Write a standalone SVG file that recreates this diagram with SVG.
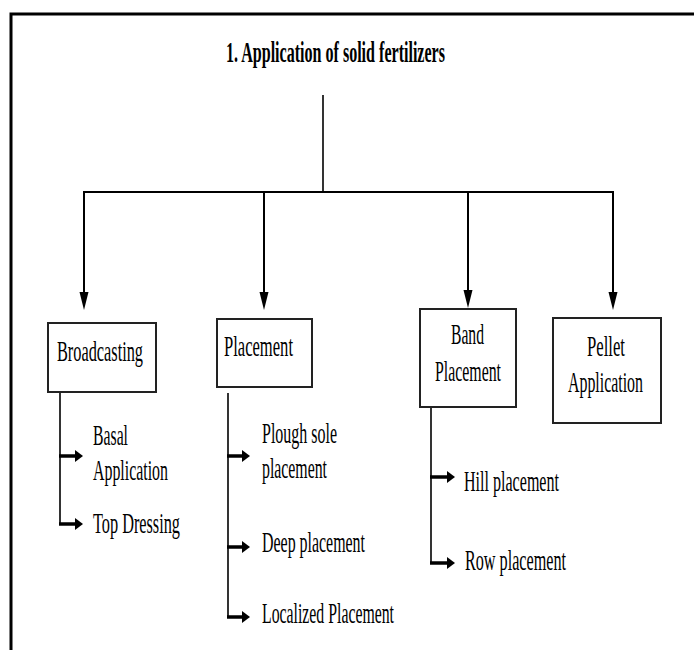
<svg xmlns="http://www.w3.org/2000/svg" width="694" height="650" viewBox="0 0 694 650">
<style>
  text { font-family: "Liberation Serif", "Times New Roman", serif; font-size: 29px; fill: #000; }
  .title { font-weight: bold; }
  .box { fill: #fff; stroke: #222; stroke-width: 2; }
  .main { stroke: #000; stroke-width: 2; fill: none; }
  .trunk { stroke: #000; stroke-width: 1.6; fill: none; }
  .sub { stroke: #000; stroke-width: 3.5; fill: none; }
  .frame { stroke: #000; stroke-width: 3; fill: none; }
</style>
<defs>
  <marker id="down" markerUnits="userSpaceOnUse" markerWidth="18" markerHeight="10" refX="10" refY="4.5" orient="auto">
    <path d="M0,0 L18,4.5 L0,9 z" fill="#000"/>
  </marker>
  <marker id="right" markerUnits="userSpaceOnUse" markerWidth="9" markerHeight="13" refX="2" refY="6" orient="auto">
    <path d="M0,0 L8,6 L0,12 z" fill="#000"/>
  </marker>
</defs>
<rect width="694" height="650" fill="#fff"/>
<path class="frame" d="M11,650 L11,14 L694,14"/>

<g id="title">
  <text class="title" x="226" y="62" textLength="219" lengthAdjust="spacingAndGlyphs">1. Application of solid fertilizers</text>
</g>

<g id="connectors">
  <line class="trunk" x1="323" y1="95" x2="323" y2="192"/>
  <line class="main" x1="83" y1="192" x2="614" y2="192" stroke-width="2.5"/>
  <line class="main" x1="84" y1="192" x2="84" y2="302" marker-end="url(#down)"/>
  <line class="main" x1="264" y1="192" x2="264" y2="302" marker-end="url(#down)"/>
  <line class="main" x1="468" y1="192" x2="468" y2="300" marker-end="url(#down)"/>
  <line class="main" x1="613" y1="192" x2="613" y2="302" marker-end="url(#down)"/>

  <line class="trunk" x1="60" y1="392" x2="60" y2="525"/>
  <line class="sub" x1="59" y1="456" x2="77" y2="456" marker-end="url(#right)"/>
  <line class="sub" x1="59" y1="524" x2="77" y2="524" marker-end="url(#right)"/>

  <line class="trunk" x1="228" y1="393" x2="228" y2="618"/>
  <line class="sub" x1="227" y1="456" x2="244" y2="456" marker-end="url(#right)"/>
  <line class="sub" x1="227" y1="547" x2="244" y2="547" marker-end="url(#right)"/>
  <line class="sub" x1="227" y1="617" x2="244" y2="617" marker-end="url(#right)"/>

  <line class="trunk" x1="431" y1="407" x2="431" y2="564"/>
  <line class="sub" x1="430" y1="477" x2="449" y2="477" marker-end="url(#right)"/>
  <line class="sub" x1="430" y1="563" x2="449" y2="563" marker-end="url(#right)"/>
</g>

<g id="broadcasting">
  <rect class="box" x="48" y="323" width="108" height="69"/>
  <text x="57" y="361" textLength="86" lengthAdjust="spacingAndGlyphs">Broadcasting</text>
</g>
<g id="placement">
  <rect class="box" x="217" y="319" width="95" height="68"/>
  <text x="224" y="356" textLength="69" lengthAdjust="spacingAndGlyphs">Placement</text>
</g>
<g id="band-placement">
  <rect class="box" x="420" y="309" width="96" height="98"/>
  <text x="451" y="344" textLength="33" lengthAdjust="spacingAndGlyphs">Band</text>
  <text x="435" y="381" textLength="66" lengthAdjust="spacingAndGlyphs">Placement</text>
</g>
<g id="pellet-application">
  <rect class="box" x="553" y="318" width="108" height="105"/>
  <text x="587" y="356" textLength="38" lengthAdjust="spacingAndGlyphs">Pellet</text>
  <text x="568" y="392" textLength="75" lengthAdjust="spacingAndGlyphs">Application</text>
</g>

<g id="basal-application">
  <text x="93" y="445" textLength="35" lengthAdjust="spacingAndGlyphs">Basal</text>
  <text x="93" y="480" textLength="75" lengthAdjust="spacingAndGlyphs">Application</text>
</g>
<g id="top-dressing">
  <text x="93" y="533" textLength="87" lengthAdjust="spacingAndGlyphs">Top Dressing</text>
</g>
<g id="plough-sole-placement">
  <text x="262" y="443" textLength="75" lengthAdjust="spacingAndGlyphs">Plough sole</text>
  <text x="262" y="478" textLength="65" lengthAdjust="spacingAndGlyphs">placement</text>
</g>
<g id="deep-placement">
  <text x="262" y="552" textLength="103" lengthAdjust="spacingAndGlyphs">Deep placement</text>
</g>
<g id="localized-placement">
  <text x="262" y="623" textLength="132" lengthAdjust="spacingAndGlyphs">Localized Placement</text>
</g>
<g id="hill-placement">
  <text x="464" y="491" textLength="95" lengthAdjust="spacingAndGlyphs">Hill placement</text>
</g>
<g id="row-placement">
  <text x="465" y="570" textLength="101" lengthAdjust="spacingAndGlyphs">Row placement</text>
</g>
</svg>
